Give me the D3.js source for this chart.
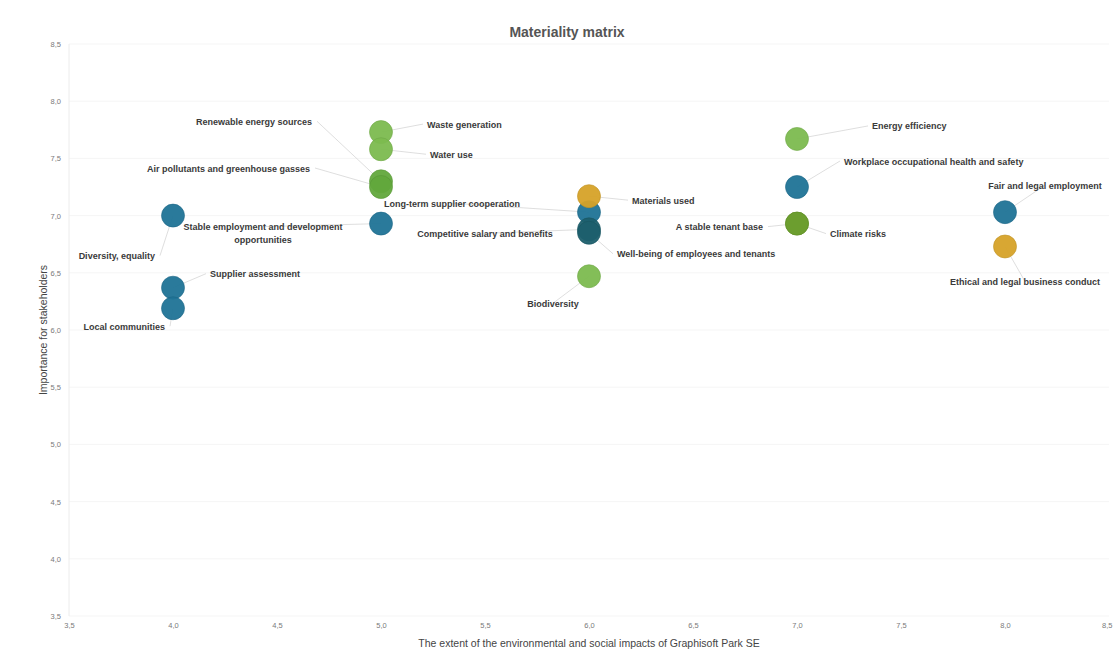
<!DOCTYPE html>
<html>
<head>
<meta charset="utf-8">
<script src="https://cdn.jsdelivr.net/npm/d3@7"></script>
<style>
  body { margin: 0; background: #fff; }
  text { font-family: "Liberation Sans", Arial, sans-serif; }
</style>
</head>
<body>
<div id="chart"></div>
<script>
// topics of the materiality matrix
const topics = [
  "Waste generation", "Water use", "Renewable energy sources", "Air pollutants and greenhouse gasses",
  "Long-term supplier cooperation", "Stable employment and development|opportunities",
  "Diversity, equality", "Supplier assessment", "Local communities",
  "Materials used", "Competitive salary and benefits", "Well-being of employees and tenants", "Biodiversity",
  "Energy efficiency", "Workplace occupational health and safety", "A stable tenant base", "Climate risks",
  "Fair and legal employment", "Ethical and legal business conduct"
];
const impact = [5.0, 5.0, 5.0, 5.0, 6.0, 5.0, 4.0, 4.0, 4.0, 6.0, 6.0, 6.0, 6.0, 7.0, 7.0, 7.0, 7.0, 8.0, 8.0];
const importance = [7.73, 7.58, 7.3, 7.25, 7.03, 6.93, 7.0, 6.37, 6.19, 7.17, 6.88, 6.85, 6.47, 7.67, 7.25, 6.93, 6.93, 7.03, 6.73];
const groups = ["env", "env", "env2", "env2", "soc", "soc", "soc", "soc", "soc", "gov", "soc2", "soc2", "env",
                "env", "soc", "env3", "env3", "soc", "gov"];
const xTicks = [3.5, 4.0, 4.5, 5.0, 5.5, 6.0, 6.5, 7.0, 7.5, 8.0, 8.5];
const yTicks = [3.5, 4.0, 4.5, 5.0, 5.5, 6.0, 6.5, 7.0, 7.5, 8.0, 8.5];

// label placement (pixels from the bubble): dx, dy, anchor
const labelPos = [
  [46, -8, "start"], [49, 5, "start"], [-69, -60, "end"], [-71, -19, "end"],
  [-137, -9, "middle"], [-118, 3, "middle"],
  [-18, 40, "end"], [37, -14, "start"], [-8, 18, "end"],
  [43, 4, "start"], [-104, 4, "middle"], [28, 21, "start"], [-36, 27, "middle"],
  [75, -13, "start"], [47, -26, "start"], [-34, 3, "end"], [33, 10, "start"],
  [40, -27, "middle"], [20, 35, "middle"]
];

const width = 1113, height = 650;
const margin = { top: 44, right: 4, bottom: 34, left: 69 };

const svg = d3.select("#chart").append("svg")
  .attr("width", width).attr("height", height);

const x = d3.scaleLinear().domain([3.5, 8.5]).range([margin.left, width - margin.right]);
const y = d3.scaleLinear().domain([3.5, 8.5]).range([height - margin.bottom, margin.top]);
const color = d3.scaleOrdinal()
  .domain(["env", "env2", "env3", "soc", "soc2", "gov"])
  .range(["#7cba4f", "#62a83c", "#6c9e2e", "#1f7396", "#1c5f6d", "#d6a228"]);

const fmt = d => d3.format(".1f")(d).replace(".", ",");

// faint grid
svg.append("g").selectAll("line").data(yTicks).join("line")
  .attr("x1", x(3.5)).attr("x2", x(8.5))
  .attr("y1", d => y(d)).attr("y2", d => y(d))
  .attr("stroke", "#f5f5f5");
svg.append("line")
  .attr("x1", x(3.5)).attr("x2", x(3.5)).attr("y1", y(8.5)).attr("y2", y(3.5))
  .attr("stroke", "#ececec");

// axes
const xAxis = svg.append("g")
  .attr("transform", `translate(0,${height - margin.bottom})`)
  .call(d3.axisBottom(x).tickValues(xTicks).tickFormat(fmt).tickSize(0).tickPadding(7));
const yAxis = svg.append("g")
  .attr("transform", `translate(${margin.left},0)`)
  .call(d3.axisLeft(y).tickValues(yTicks).tickFormat(fmt).tickSize(0).tickPadding(8));
[xAxis, yAxis].forEach(a => {
  a.select(".domain").remove();
  a.selectAll("text").attr("fill", "#7a7a7a").attr("font-size", 7.5);
});
// keep the last x tick inside the frame
xAxis.selectAll(".tick").filter(d => d === 8.5).select("text").attr("text-anchor", "end").attr("dx", 3);

// leader lines
const pts = topics.map((t, i) => ({
  name: t, cx: x(impact[i]), cy: y(importance[i]), g: groups[i],
  dx: labelPos[i][0], dy: labelPos[i][1], anchor: labelPos[i][2]
}));

svg.append("g").selectAll("line").data(pts).join("line")
  .attr("x1", d => d.cx).attr("y1", d => d.cy)
  .attr("x2", d => d.cx + d.dx + (d.anchor === "end" ? 5 : d.anchor === "start" ? -4 : 0))
  .attr("y2", d => d.cy + d.dy)
  .attr("stroke", "#d6d6d6").attr("stroke-width", 0.8);

// bubbles
svg.append("g").selectAll("circle").data(pts).join("circle")
  .attr("cx", d => d.cx).attr("cy", d => d.cy).attr("r", 11.5)
  .attr("fill", d => color(d.g))
  .attr("fill-opacity", 0.95)
  .attr("stroke", d => d3.color(color(d.g)).darker(0.3))
  .attr("stroke-width", 0.6);

// labels
const lab = svg.append("g").selectAll("text").data(pts).join("text")
  .attr("x", d => d.cx + d.dx)
  .attr("y", d => d.cy + d.dy + 3.5)
  .attr("text-anchor", d => d.anchor)
  .attr("font-size", 9)
  .attr("font-weight", "bold")
  .attr("fill", "#3a3a3a");
lab.each(function(d) {
  const parts = d.name.split("|");
  d3.select(this).selectAll("tspan").data(parts).join("tspan")
    .attr("x", d.cx + d.dx)
    .attr("dy", (p, j) => j === 0 ? 0 : 13)
    .text(p => p);
});

// titles
svg.append("text").attr("x", 567).attr("y", 37).attr("text-anchor", "middle")
  .attr("font-size", 14).attr("font-weight", "bold").attr("fill", "#555")
  .text("Materiality matrix");
svg.append("text").attr("x", 589).attr("y", 647).attr("text-anchor", "middle")
  .attr("font-size", 10.5).attr("fill", "#444")
  .text("The extent of the environmental and social impacts of Graphisoft Park SE");
svg.append("text")
  .attr("transform", `translate(47,${(margin.top + height - margin.bottom) / 2}) rotate(-90)`)
  .attr("text-anchor", "middle").attr("font-size", 10.5).attr("fill", "#444")
  .text("Importance for stakeholders");
</script>
</body>
</html>
